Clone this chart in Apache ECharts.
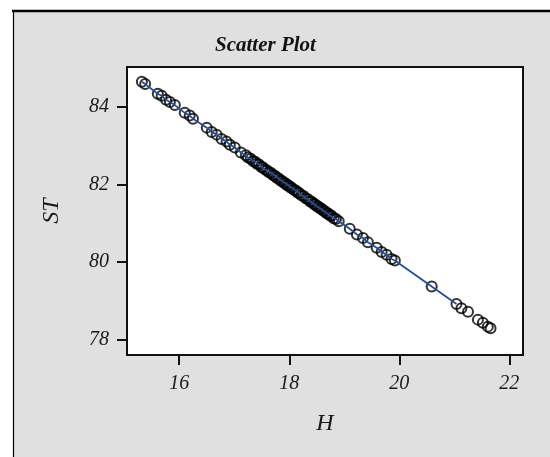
<!DOCTYPE html>
<html>
<head>
<meta charset="utf-8">
<script src="https://cdn.jsdelivr.net/npm/echarts@6/dist/echarts.min.js"></script>
<style>
  html, body { margin: 0; padding: 0; background: #ffffff; }
  #chart { width: 550px; height: 457px; }
</style>
</head>
<body>
<div id="chart"></div>
<script>
// Observations: H and ST
const H = [
  15.32, 15.38, 15.61, 15.68, 15.76, 15.83, 15.92, 16.10, 16.19, 16.25,
  16.50, 16.59, 16.68, 16.77, 16.86, 16.92, 17.01, 17.12, 17.21, 17.25,
  17.30, 17.34, 17.38, 17.41, 17.45, 17.49, 17.52, 17.56, 17.60, 17.63,
  17.67, 17.70, 17.74, 17.77, 17.81, 17.84, 17.87, 17.90, 17.93, 17.96,
  17.99, 18.02, 18.05, 18.08, 18.12, 18.15, 18.18, 18.22, 18.26, 18.30,
  18.34, 18.38, 18.41, 18.44, 18.47, 18.50, 18.53, 18.56, 18.59, 18.62,
  18.65, 18.68, 18.71, 18.74, 18.77, 18.81, 18.85, 18.90, 19.10, 19.23,
  19.34, 19.43, 19.59, 19.68, 19.77, 19.86, 19.92, 20.59, 21.04, 21.13,
  21.25, 21.43, 21.52, 21.61, 21.66
];
const ST = [
  84.64, 84.58, 84.33, 84.28, 84.18, 84.12, 84.04, 83.84, 83.77, 83.69,
  83.46, 83.35, 83.28, 83.17, 83.10, 83.02, 82.95, 82.82, 82.75, 82.69,
  82.66, 82.60, 82.58, 82.53, 82.51, 82.45, 82.44, 82.38, 82.36, 82.31,
  82.29, 82.24, 82.22, 82.17, 82.15, 82.10, 82.09, 82.04, 82.03, 81.98,
  81.97, 81.92, 81.91, 81.86, 81.84, 81.79, 81.78, 81.72, 81.70, 81.64,
  81.62, 81.56, 81.55, 81.50, 81.49, 81.44, 81.43, 81.38, 81.37, 81.32,
  81.31, 81.26, 81.25, 81.20, 81.19, 81.13, 81.11, 81.05, 80.86, 80.71,
  80.62, 80.51, 80.37, 80.26, 80.19, 80.08, 80.04, 79.37, 78.92, 78.81,
  78.72, 78.52, 78.44, 78.34, 78.30
];
// The fitted curve runs through the observations up to this H value
const curveEndH = 21.04;

const xTicks = [16, 18, 20, 22];
const yTicks = [78, 80, 82, 84];

const points = H.map((h, i) => [h, ST[i]]);
const curve = points.filter(p => p[0] <= curveEndH);

const serif = '"Liberation Serif", "Times New Roman", serif';
const labelStyle = { fontFamily: serif, fontStyle: 'italic', fontSize: 20, color: '#1a1a1a' };
const nameStyle = { fontFamily: serif, fontStyle: 'italic', fontSize: 24, color: '#1a1a1a' };

const chart = echarts.init(document.getElementById('chart'), null, { renderer: 'canvas' });
chart.setOption({
  animation: false,
  backgroundColor: '#ffffff',
  graphic: [
    { type: 'rect', z: -10, silent: true,
      shape: { x: 13, y: 11, width: 540, height: 450 },
      style: { fill: '#e0e0e0' } },
    { type: 'line', z: -9, silent: true,
      shape: { x1: 12, y1: 11, x2: 550, y2: 11 },
      style: { stroke: '#000', lineWidth: 2.5 } },
    { type: 'line', z: -9, silent: true,
      shape: { x1: 13.5, y1: 10, x2: 13.5, y2: 457 },
      style: { stroke: '#000', lineWidth: 1.2 } },
    { type: 'text', z: 5, left: 215, top: 35,
      style: { text: 'Scatter Plot', fontFamily: serif, fontStyle: 'italic',
               fontWeight: 'bold', fontSize: 21, fill: '#111' } }
  ],
  grid: {
    left: 127, top: 67, right: 27, bottom: 102,
    show: true, backgroundColor: '#ffffff', borderColor: '#111', borderWidth: 2
  },
  xAxis: {
    type: 'value', min: 15.05, max: 22.25,
    name: 'H', nameLocation: 'middle', nameGap: 57,
    nameTextStyle: nameStyle,
    axisLine: { show: true, onZero: false, lineStyle: { color: '#111', width: 2 } },
    axisTick: { show: true, length: 10, customValues: xTicks, lineStyle: { color: '#111', width: 2 } },
    axisLabel: Object.assign({ customValues: xTicks, margin: 19 }, labelStyle),
    splitLine: { show: false }
  },
  yAxis: {
    type: 'value', min: 77.61, max: 85.02,
    name: 'ST', nameLocation: 'middle', nameGap: 63, nameRotate: 90,
    nameTextStyle: nameStyle,
    axisLine: { show: true, onZero: false, lineStyle: { color: '#111', width: 2 } },
    axisTick: { show: true, length: 10, customValues: yTicks, lineStyle: { color: '#111', width: 2 } },
    axisLabel: Object.assign({ customValues: yTicks, margin: 18 }, labelStyle),
    splitLine: { show: false }
  },
  series: [
    {
      type: 'scatter', data: points, symbol: 'circle', symbolSize: 10,
      itemStyle: { color: 'rgba(0,0,0,0)', borderColor: '#000', borderWidth: 2 },
      z: 2
    },
    {
      type: 'line', data: curve, showSymbol: false, symbol: 'none',
      lineStyle: { color: '#1f4f9c', width: 1.8 },
      z: 3
    }
  ]
});
</script>
</body>
</html>
